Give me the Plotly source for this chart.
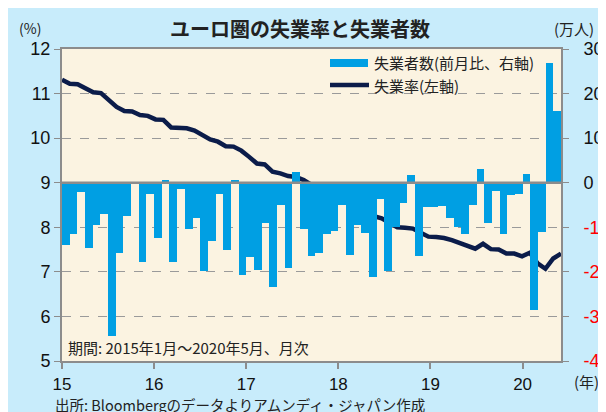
import numpy as np
import pandas as pd
import plotly.graph_objects as go

# ---------------- data ----------------
months = pd.date_range("2015-01-01", "2020-05-01", freq="MS")  # 65 months

# 失業者数 前月比 (万人, right axis)
unemployed_change = [
    -13.9, -11.4, -2.0, -14.6, -9.5, -7.0, -34.4, -15.7, -7.5, -0.3, -17.8, -2.6,   # 2015
    -12.5, 0.6, -17.8, -1.4, -10.3, -8.0, -19.9, -13.1, -2.6, -15.0, 0.6, -20.6,    # 2016
    -16.6, -19.6, -9.0, -23.4, -4.9, -19.1, 2.3, -10.3, -16.5, -15.7, -11.6, -10.8, # 2017
    -4.9, -16.3, -9.5, -11.2, -21.2, -3.7, -19.8, -9.9, -4.6, 1.7, -16.5, -5.4,     # 2018
    -5.4, -5.2, -8.0, -9.9, -11.6, -5.0, 3.0, -9.0, -1.9, -11.4, -2.8, -2.5,        # 2019
    1.9, -28.5, -11.0, 26.8, 16.1,                                                  # 2020
]

# 失業率 (%, left axis)
unemployment_rate = [
    11.31, 11.22, 11.21, 11.12, 11.03, 11.01, 10.84, 10.70, 10.61, 10.60, 10.52, 10.50,
    10.42, 10.41, 10.24, 10.24, 10.22, 10.17, 10.06, 9.97, 9.92, 9.82, 9.81, 9.72,
    9.58, 9.43, 9.41, 9.25, 9.21, 9.15, 9.13, 9.06, 8.95, 8.83, 8.72, 8.63,
    8.59, 8.54, 8.51, 8.40, 8.25, 8.20, 8.10, 8.00, 7.99, 7.97, 7.88, 7.79,
    7.78, 7.76, 7.71, 7.64, 7.58, 7.52, 7.63, 7.51, 7.50, 7.41, 7.41, 7.35,
    7.43, 7.19, 7.07, 7.30, 7.41,
]

year_ticks = [2015, 2016, 2017, 2018, 2019, 2020]
year_labels = ["15", "16", "17", "18", "19", "20"]
left_ticks = [5, 6, 7, 8, 9, 10, 11, 12]
right_ticks = [-40, -30, -20, -10, 0, 10, 20, 30]

# ---------------- positions ----------------
n = len(months)
x_start = months[0].year + (months[0].month - 1) / 12
x_end = x_start + n / 12
x_bar = np.array([m.year + (m.month - 1 + 0.5) / 12 for m in months])
x_line = x_start + np.arange(n) * (x_end - x_start) / (n - 1)

right_ticktext = [
    (f"<span style='color:#FF0000'>{v}</span>" if v < 0 else str(v)) for v in right_ticks
]

FONT = "Liberation Sans, Arial, Noto Sans CJK JP, sans-serif"
JFONT = "Noto Sans CJK JP, Liberation Sans, sans-serif"
BAR_C = "#009FE3"
LINE_C = "#0B1C4A"
BG = "#C8ECFB"
PLOT_BG = "#FBF3E1"
AX_C = "#8C8C8C"

fig = go.Figure()
fig.add_trace(go.Bar(
    x=x_bar, y=unemployed_change, width=1 / 12, yaxis="y2",
    marker=dict(color=BAR_C, line=dict(width=0)), name="失業者数(前月比、右軸)",
    showlegend=False,
))
fig.add_trace(go.Scatter(
    x=x_line, y=unemployment_rate, mode="lines", yaxis="y",
    line=dict(color=LINE_C, width=4.5), name="失業率(左軸)", showlegend=False,
))

fig.update_layout(
    width=606, height=412,
    margin=dict(l=54, r=53, t=41, b=59),
    paper_bgcolor=BG,
    plot_bgcolor=PLOT_BG,
    bargap=0,
    font=dict(family=FONT, size=17, color="#111"),
    xaxis=dict(
        range=[x_start, x_end], tickvals=year_ticks, ticktext=year_labels,
        showgrid=False, zeroline=False, showline=True, linecolor=AX_C, linewidth=2,
        mirror=True, ticks="outside", ticklen=6, tickcolor=AX_C, tickwidth=1.5,
        tickfont=dict(size=17, family=FONT, color="#111"), ticklabelstandoff=1,
        automargin=False,
    ),
    yaxis=dict(
        range=[5, 12], tickvals=left_ticks, showgrid=True, gridcolor="#9A9A9A",
        griddash="dash", gridwidth=1, zeroline=False, showline=True, linecolor=AX_C,
        linewidth=2, ticks="outside", ticklen=6, tickcolor=AX_C,
        tickfont=dict(size=18, family=FONT, color="#111"), automargin=False,
    ),
    yaxis2=dict(
        range=[-40, 30], tickvals=right_ticks, ticktext=right_ticktext,
        overlaying="y", side="right", showgrid=False, zeroline=False,
        showline=True, linecolor=AX_C, linewidth=2, ticks="outside", ticklen=6,
        tickcolor=AX_C, tickfont=dict(size=18, family=FONT, color="#111"),
        ticklabelstandoff=11, automargin=False,
    ),
)

# solid zero line (9% / 0万人)
fig.add_shape(type="line", xref="paper", yref="y", x0=0, x1=1, y0=9, y1=9,
              line=dict(color=AX_C, width=2.5), layer="above")

# plot area in page pixels (page has an 8px body margin)
PX0, PW, PY1, PH = 62, 499, 361, 312

def px(X):
    return (X - PX0) / PW

def py(Y):
    return (PY1 - Y) / PH

# custom legend
fig.add_shape(type="rect", xref="paper", yref="paper",
              x0=px(330), x1=px(368), y0=py(67), y1=py(59),
              fillcolor=BAR_C, line=dict(width=0))
fig.add_shape(type="line", xref="paper", yref="paper",
              x0=px(330), x1=px(369), y0=py(85), y1=py(85),
              line=dict(color=LINE_C, width=4.5))

annos = [
    dict(text="<b>ユーロ圏の失業率と失業者数</b>", x=300, y=28, size=20, anchor="center"),
    dict(text="(%)", x=17, y=28, size=14, anchor="left"),
    dict(text="(万人)", x=552, y=28, size=15, anchor="left"),
    dict(text="失業者数(前月比、右軸)", x=372, y=63, size=15, anchor="left"),
    dict(text="失業率(左軸)", x=372, y=85, size=15, anchor="left"),
    dict(text="期間: 2015年1月～2020年5月、月次", x=66, y=347, size=15, anchor="left"),
    dict(text="(年)", x=572, y=381, size=15, anchor="left"),
    dict(text="出所: Bloombergのデータよりアムンディ・ジャパン作成", x=53, y=404, size=14.5, anchor="left"),
]
for a in annos:
    fig.add_annotation(
        text=a["text"], xref="paper", yref="paper",
        x=px(a["x"]), y=py(a["y"]),
        xanchor=a["anchor"], yanchor="middle", showarrow=False,
        font=dict(size=a["size"], family=JFONT, color="#222"),
    )

fig.write_html("out.html")
